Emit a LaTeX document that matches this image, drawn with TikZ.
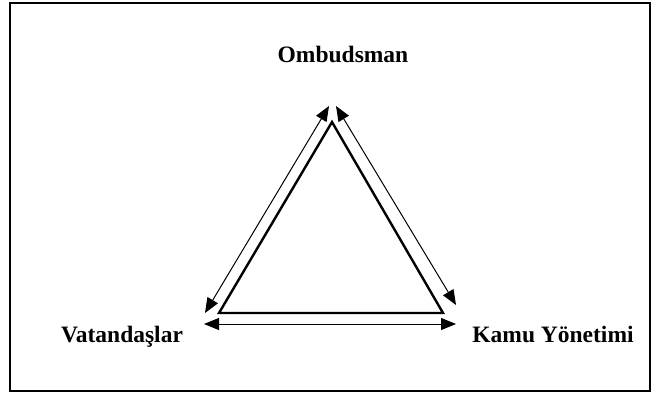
\documentclass[tikz,border=0pt]{standalone}
\usepackage{fontspec}
\setmainfont{Liberation Serif}
\usetikzlibrary{arrows.meta}
\begin{document}
\begin{tikzpicture}[x=1pt,y=-1pt,
  lbl/.style={font=\fontsize{23.5}{27}\selectfont\bfseries, inner sep=0pt, anchor=base},
  dbl/.style={line width=1pt, {Triangle[length=15pt,width=12pt]}-{Triangle[length=15pt,width=12pt]}},
  tri/.style={line width=2.4pt, line join=miter}]
\useasboundingbox (0,0) rectangle (652,394);
\draw[line width=1.5pt] (10,3) rectangle (650,391);
\coordinate (A) at (332,122);
\coordinate (B) at (219,313);
\coordinate (C) at (443,313);
\draw[tri] (A) -- (B) -- (C) -- cycle;
\coordinate (l1) at (329,106);
\coordinate (l2) at (205,313);
\coordinate (r1) at (336,106);
\coordinate (r2) at (456,305);
\coordinate (b1) at (204,324);
\coordinate (b2) at (456,324);
\draw[dbl] (l1) -- (l2);
\draw[dbl] (r1) -- (r2);
\draw[dbl] (b1) -- (b2);
\node[lbl] (om) at (343,62) {Ombudsman};
\node[lbl] (va) at (122,342) {Vatandaşlar};
\node[lbl] (ka) at (553,342) {Kamu Yönetimi};
\end{tikzpicture}
\end{document}
